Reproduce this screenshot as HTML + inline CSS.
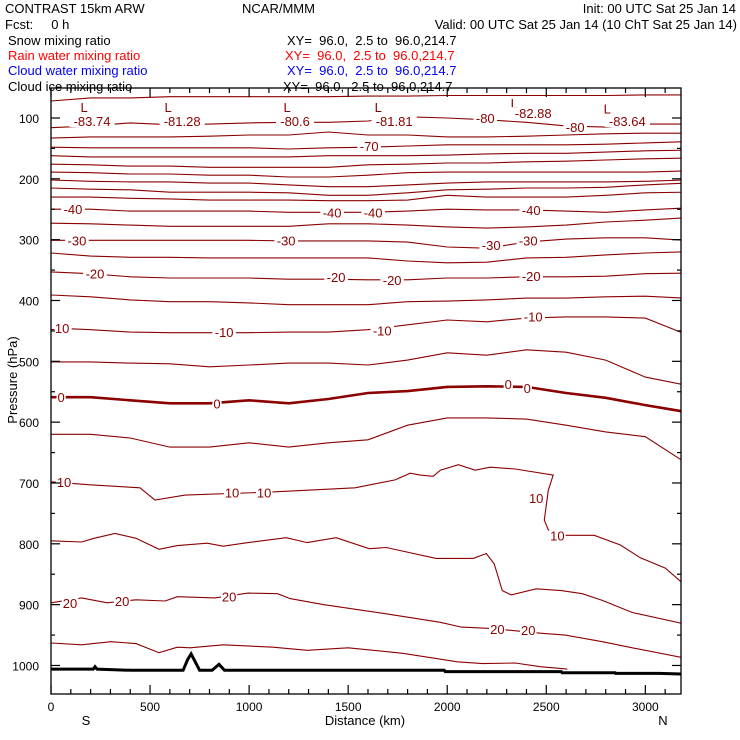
<!DOCTYPE html>
<html><head><meta charset="utf-8"><style>
body{margin:0;background:#fff;}
svg{display:block;font-family:"Liberation Sans",sans-serif;}
</style></head><body>
<svg id="chart" width="740" height="740" viewBox="0 0 740 740" xmlns="http://www.w3.org/2000/svg">
<rect width="740" height="740" fill="#fff"/>
<g font-size="13" fill="#000">
<text x="5" y="13">CONTRAST 15km ARW</text>
<text x="242" y="13">NCAR/MMM</text>
<text x="736" y="13" text-anchor="end">Init: 00 UTC Sat 25 Jan 14</text>
<text x="5" y="29" xml:space="preserve">Fcst:     0 h</text>
<text x="737" y="29" text-anchor="end">Valid: 00 UTC Sat 25 Jan 14 (10 ChT Sat 25 Jan 14)</text>
<text x="8" y="45">Snow mixing ratio</text>
<text x="287" y="45" xml:space="preserve">XY=  96.0,  2.5 to  96.0,214.7</text>
<text x="8" y="60" fill="#ff0000">Rain water mixing ratio</text>
<text x="285" y="60" fill="#ff0000" xml:space="preserve">XY=  96.0,  2.5 to  96.0,214.7</text>
<text x="8" y="75" fill="#0000ff">Cloud water mixing ratio</text>
<text x="287" y="75" fill="#0000ff" xml:space="preserve">XY=  96.0,  2.5 to  96.0,214.7</text>
<text x="8" y="91">Cloud ice mixing ratio</text>
<text x="283" y="91" xml:space="preserve">XY=  96.0,  2.5 to  96.0,214.7</text>
</g>
<g id="plot"></g>
</svg>
<script>
// ---- data (distance km, pressure hPa) ----
const kmGrid = [0,200,400,600,800,1000,1200,1400,1600,1800,2000,2200,2400,2600,2800,3000,3200];
const gridContours = [
 [72,67,67,65,65,65,65,65,64,64,63,63,63,63,63,62,62],
 [116,113,108,111,110,108,107,107,105,98,100,103,107,113,115,110,110],
 [133,131,131,131,130,128,128,123,128,128,131,131,130,128,126,125,125],
 [148,149,149,149,149,149,151,149,148,146,144,144,144,144,143,141,139],
 [162,164,164,164,164,164,164,162,162,162,161,159,158,158,156,154,153],
 [176,177,179,179,181,181,181,181,177,176,174,174,172,171,169,167,166],
 [189,190,192,192,194,194,197,197,194,190,189,189,189,189,189,189,187],
 [202,204,205,205,207,207,210,213,213,210,207,205,205,205,205,204,202],
 [215,217,218,222,222,222,223,227,227,223,218,217,215,215,214,210,207],
 [230,230,232,233,235,235,235,236,236,235,227,230,230,230,227,223,222],
 [250,250,253,253,253,253,255,255,255,253,250,251,251,253,255,251,248],
 [273,274,276,278,278,278,278,274,274,276,279,281,279,276,271,268,264],
 [301,301,301,301,301,301,302,302,302,304,312,314,304,299,297,297,301],
 [322,327,329,329,330,330,330,330,330,335,338,337,330,329,325,322,320],
 [353,356,361,363,363,363,365,365,366,366,363,363,361,361,360,356,355],
 [391,394,399,402,402,404,407,407,407,402,401,399,396,396,394,393,396],
 [445,448,452,453,453,453,452,452,448,440,432,435,429,427,427,429,455],
 [501,501,503,504,509,506,503,503,506,498,486,490,481,485,498,526,539],
 [620,620,626,641,641,634,641,634,629,605,593,593,595,605,616,624,666]
];
const zeroLine = [559,559,564,569,569,564,569,562,552,549,542,541,542,552,560,572,583];
const line10 = [[0,698],[197,703],[449,708],[525,728],[677,720],[1106,715],[1535,708],[1737,695],[1813,684],[1864,687],[1929,689],[1965,679],[2056,670],[2141,679],[2217,674],[2343,677],[2535,687],[2510,712],[2490,761],[2510,777],[2571,786],[2742,786],[2874,802],[2975,823],[3101,840],[3182,863]];
const line20a = [[0,795],[155,797],[217,791],[323,783],[429,791],[545,809],[638,803],[788,799],[869,804],[995,798],[1187,790],[1293,798],[1439,790],[1606,808],[1692,806],[1944,824],[2131,824],[2197,816],[2237,833],[2278,877],[2323,884],[2449,874],[2576,877],[2682,882],[2783,893],[2934,913],[3187,931]];
const line20b = [[0,897],[155,889],[283,897],[429,892],[576,894],[638,887],[828,889],[995,881],[1144,882],[1207,890],[1374,900],[1672,914],[1965,929],[2071,937],[2217,939],[2470,947],[2596,950],[2783,961],[2934,971],[3187,987]];
const line25 = [[0,963],[155,966],[303,961],[429,964],[545,979],[638,970],[702,971],[869,966],[1121,970],[1293,975],[1500,971],[1775,980],[2051,994],[2177,997],[2343,996],[2470,1002],[2606,1006]];
const terrain = [[0,1006],[213,1006],[222,1002],[232,1006],[404,1008],[667,1008],[690,990],[707,981],[722,990],[750,1008],[813,1008],[848,998],[876,1008],[1985,1008],[1990,1010],[2576,1010],[2580,1012],[2848,1012],[2850,1013],[3071,1013],[3187,1014]];
const labelText = ["L","-83.74","L","-81.28","L","-80.6","L","-81.81","-80","L","-82.88","-80","L","-83.64","-70","-40","-40","-40","-40","-30","-30","-30","-30","-20","-20","-20","-20","-10","-10","-10","-10","0","0","0","0","10","10","10","10","10","20","20","20","20","20"];
const labelKm = [167,207,591,662,1192,1232,1652,1732,2192,2338,2434,2646,2808,2909,1606,111,1419,1626,2424,131,1187,2222,2409,222,1439,1722,2424,45,874,1672,2434,51,838,2308,2404,66,914,1076,2449,2556,96,359,899,2253,2409];
const labelP = [82,105,82,105,82,105,82,105,100,75,92,115,84,105,146,250,255,255,251,301,301,309,301,356,361,366,360,445,452,449,426,559,569,537,544,698,716,716,725,786,897,894,887,940,942];
const yTickVals = [100,200,300,400,500,600,700,800,900,1000];
const xTickVals = [0,500,1000,1500,2000,2500,3000];

// ---- axes ----
const L=51,R=681,T=88,B=694, KMAX=3180;
const x = km => L + km*(R-L)/KMAX;
const y = p => 118 + (p-100)*0.6083;
const NS="http://www.w3.org/2000/svg";
const plot=document.getElementById('plot');
function mk(tag,attrs,parent){const e=document.createElementNS(NS,tag);for(const k in attrs)e.setAttribute(k,attrs[k]);(parent||plot).appendChild(e);return e;}
const clip=mk('clipPath',{id:'pc'});mk('rect',{x:L,y:T,width:R-L,height:B-T},clip);
const lines=mk('g',{'clip-path':'url(#pc)'});


const CLR='#8b0000';
gridContours.forEach((arr,i)=>{
 const d=arr.map((p,j)=>(j?'L':'M')+x(kmGrid[j]).toFixed(1)+','+y(p).toFixed(1)).join('');
 const e=mk('path',{d:d,fill:'none',stroke:CLR,'stroke-width':1.1},lines);
 
 
});
{
 const d=zeroLine.map((p,j)=>(j?'L':'M')+x(kmGrid[j]).toFixed(1)+','+y(p).toFixed(1)).join('');
 const e=mk('path',{d:d,fill:'none',stroke:CLR,'stroke-width':2.6},lines);
 
 
}
[[line10,'contour-10'],[line20a,'contour-15'],[line20b,'contour-20'],[line25,'contour-25']].forEach(([pts,nm])=>{
 const d=pts.map((q,j)=>(j?'L':'M')+x(q[0]).toFixed(1)+','+y(q[1]).toFixed(1)).join('');
 const e=mk('path',{d:d,fill:'none',stroke:CLR,'stroke-width':1.1},lines);
 
 
});
{
 const d=terrain.map((q,j)=>(j?'L':'M')+x(q[0]).toFixed(1)+','+y(q[1]).toFixed(1)).join('');
 const e=mk('path',{d:d,fill:'none',stroke:'#000','stroke-width':3},lines);
 
 
}
// labels
const lg=mk('g',{'font-size':'13',fill:CLR,'text-anchor':'middle'});


labelText.forEach((t,i)=>{
 const cx=x(labelKm[i]), cy=y(labelP[i]);
 const w=t.length*7.2+2;
 if(t!=='L'){const r=mk('rect',{x:cx-w/2,y:cy-6,width:w,height:12,fill:'#fff'},lg);
 
 }
 const e=mk('text',{x:cx,y:cy+5},lg);e.textContent=t;
 
 
});
// frame
const fr=mk('rect',{x:L,y:T,width:R-L,height:B-T,fill:'none',stroke:'#000','stroke-width':1.3});


const ax=mk('g',{stroke:'#000','stroke-width':1.2});


for(let p=50;p<=1050;p+=50){const yy=y(p);if(yy<T||yy>B)continue;const len=p%100===0?9:4;
 mk('line',{x1:L,x2:L+len,y1:yy,y2:yy},ax);mk('line',{x1:R,x2:R-len,y1:yy,y2:yy},ax);}
for(let k=0;k<=KMAX;k+=100){const xx=x(k);const len=k%500===0?9:5;
 mk('line',{x1:xx,x2:xx,y1:B,y2:B-len},ax);mk('line',{x1:xx,x2:xx,y1:T,y2:T+len},ax);}
const tl=mk('g',{'font-size':'12',fill:'#000'});


yTickVals.forEach(v=>{const e=mk('text',{x:39,y:y(v)+5,'text-anchor':'end'},tl);e.textContent=v;
 
 });
xTickVals.forEach(v=>{const e=mk('text',{x:x(v),y:711,'text-anchor':'middle'},tl);e.textContent=v;
 
 });
const xl=mk('text',{x:365,y:725,'text-anchor':'middle','font-size':'13'});xl.textContent='Distance (km)';


const sL=mk('text',{x:86,y:725,'text-anchor':'middle','font-size':'13'});sL.textContent='S';


const nL=mk('text',{x:663,y:725,'text-anchor':'middle','font-size':'13'});nL.textContent='N';


const yl=mk('text',{x:0,y:0,'text-anchor':'middle','font-size':'13',transform:'translate(17,380) rotate(-90)'});yl.textContent='Pressure (hPa)';


</script>
</body></html>
